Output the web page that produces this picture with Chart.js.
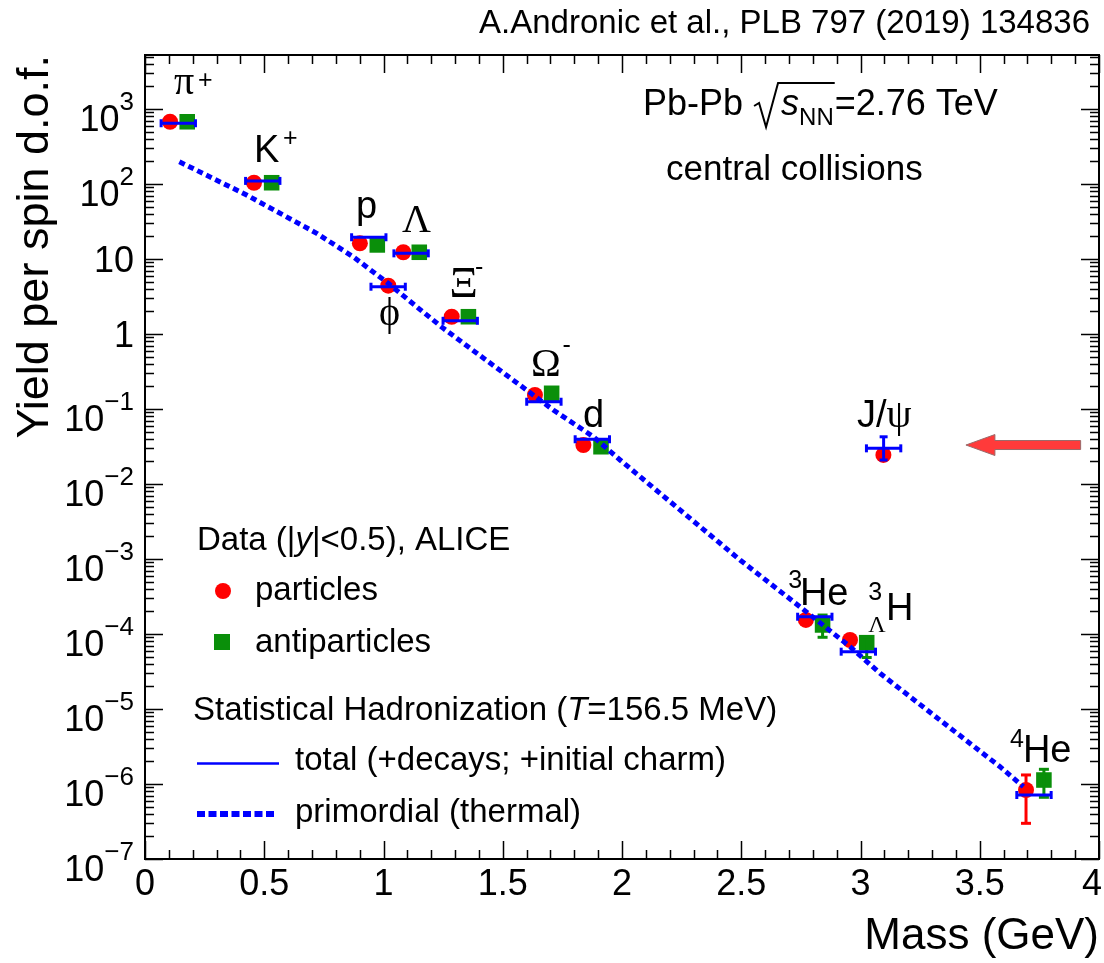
<!DOCTYPE html>
<html>
<head>
<meta charset="utf-8">
<script src="https://cdn.jsdelivr.net/npm/chart.js@4.4.1/dist/chart.umd.min.js"></script>
<style>
  html, body { margin: 0; padding: 0; background: #fff; }
  #wrap { width: 1104px; height: 963px; }
</style>
</head>
<body>
<div id="wrap"><canvas id="yieldChart" width="1104" height="963"></canvas></div>
<script>
// ---- data ----
// species in order of the model bars
const species = ['pi+', 'K+', 'p', 'phi', 'Lambda', 'Xi-', 'Omega-', 'd', '3He', '3LH', 'J/psi', '4He'];
const speciesMass = [0.1396, 0.4937, 0.9383, 1.0195, 1.1157, 1.3217, 1.6725, 1.8756, 2.8084, 2.991, 3.0969, 3.7274];
// Statistical Hadronization, total (+decays; +initial charm)
const modelTotal = [646, 110, 19.5, 4.27, 11.9, 1.50, 0.125, 0.0395, 1.70e-4, 5.81e-5, 0.0299, 7.13e-7];

// ALICE particles (red), plotted a bit left of the mass
const particleX = [0.105, 0.457, 0.901, 1.020, 1.083, 1.286, 1.635, 1.838, 2.771, 2.956, 3.096, 3.694];
const particleY = [676, 104, 16.2, 4.41, 12.3, 1.70, 0.154, 0.0331, 1.54e-4, 8.32e-5, 0.0244, 8.32e-7];
// ALICE antiparticles (green), plotted a bit right of the mass
const antiX = [0.177, 0.531, 0.974, 1.150, 1.356, 1.705, 1.912, 2.841, 3.026, 3.769];
const antiY = [676, 104, 15.4, 12.3, 1.70, 0.162, 0.0314, 1.32e-4, 7.66e-5, 1.13e-6];

// visible error bars
const particleErrX = [3.694];
const particleErrLo = [2.99e-7];
const particleErrHi = [1.32e-6];
const antiErrX = [2.841, 3.026, 3.769];
const antiErrLo = [9.04e-5, 4.86e-5, 6.65e-7];
const antiErrHi = [1.79e-4, 9.04e-5, 1.57e-6];
const modelErrX = [3.0969];
const modelErrLo = [0.0209];
const modelErrHi = [0.0426];

// primordial (thermal) curve
const thermalX = [0.144, 0.426, 0.720, 0.873, 1.020, 1.139, 1.251, 1.447, 1.600, 1.712, 1.880, 1.992, 2.495, 2.746, 2.956, 3.082, 3.333, 3.585, 3.683];
const thermalY = [198, 71.3, 22.0, 10.7, 4.74, 2.31, 1.19, 0.41, 0.179, 0.097, 0.0427, 0.0209, 9.7e-4, 2.31e-4, 6.78e-5, 2.99e-5, 7.13e-6, 1.70e-6, 9.2e-7];

// axes
const xTicks = [0, 0.5, 1, 1.5, 2, 2.5, 3, 3.5, 4];
const xTickLabels = ['0', '0.5', '1', '1.5', '2', '2.5', '3', '3.5', '4'];
const yDecades = [1e-7, 1e-6, 1e-5, 1e-4, 1e-3, 1e-2, 1e-1, 1, 10, 1e2, 1e3];
const yTickBase = ['10', '10', '10', '10', '10', '10', '10', '1', '10', '10', '10'];
const yTickExp = ['−7', '−6', '−5', '−4', '−3', '−2', '−1', '', '', '2', '3'];
const yMin = 1e-7, yMax = 5250;

// ---- styles ----
const RED = '#ff0000';
const GREEN = '#0a8f0a';
const BLUE = '#0000ff';
const SANS = '"Liberation Sans", Arial, sans-serif';
const SERIF = '"Liberation Serif", "Times New Roman", serif';
const F = {
  t: `38px ${SANS}`,
  s: `25px ${SANS}`,
  g: `40px ${SERIF}`,
  gL: `44px ${SERIF}`,
  gs: `24px ${SERIF}`,
  h: `36px ${SANS}`,
  hi: `italic 36px ${SANS}`,
  hs: `24px ${SANS}`,
  c: `35px ${SANS}`,
  leg: `33px ${SANS}`,
  legi: `italic 33px ${SANS}`,
  cite: `33px ${SANS}`,
  tick: `36px ${SANS}`,
  tickExp: `26px ${SANS}`
};
const barHalfWidth = 0.072;

// particle name labels, anchored in data coordinates (left edge, baseline)
const speciesLabels = [
  {x: 0.122, y: 1585, runs: [['π', 'g']]},
  {x: 0.222, y: 1905, runs: [['+', 's']]},
  {x: 0.457, y: 198, runs: [['K', 't']]},
  {x: 0.579, y: 324, runs: [['+', 's']]},
  {x: 0.885, y: 34.9, runs: [['p', 't']]},
  {x: 1.078, y: 23.1, runs: [['Λ', 'g']]},
  {x: 0.981, y: 1.32, runs: [['ϕ', 'g']]},
  {x: 1.277, y: 3.08, runs: [['Ξ', 'gL']]},
  {x: 1.384, y: 6.18, runs: [['-', 's']]},
  {x: 1.618, y: 0.275, runs: [['Ω', 'g']]},
  {x: 1.751, y: 0.558, runs: [['-', 's']]},
  {x: 1.836, y: 0.0581, runs: [['d', 't']]},
  {x: 2.985, y: 0.0575, runs: [['J/', 't'], ['ψ', 'g']]},
  {x: 2.697, y: 4.06e-4, runs: [['3', 's']]},
  {x: 2.746, y: 2.44e-4, runs: [['He', 't']]},
  {x: 3.033, y: 2.84e-4, runs: [['3', 's']]},
  {x: 3.033, y: 1.07e-4, runs: [['Λ', 'gs']]},
  {x: 3.107, y: 1.54e-4, runs: [['H', 't']]},
  {x: 3.627, y: 3.14e-6, runs: [['4', 's']]},
  {x: 3.681, y: 1.98e-6, runs: [['He', 't']]}
];
// arrow pointing at J/psi (data coords)
const arrowTip = {x: 3.442, y: 0.0331};
const arrowTailX = 3.923;

function pairs(xs, ys) {
  return xs.map((x, i) => ({x: x, y: ys[i]}));
}
function modelBars() {
  const pts = [];
  speciesMass.forEach((m, i) => {
    pts.push({x: m - barHalfWidth, y: modelTotal[i]});
    pts.push({x: m + barHalfWidth, y: modelTotal[i]});
    pts.push({x: m + barHalfWidth, y: null}); // break the line
  });
  return pts;
}
function errorBars(xs, lo, hi) {
  const pts = [];
  xs.forEach((x, i) => {
    pts.push({x: x, y: lo[i]}, {x: x, y: hi[i]}, {x: x, y: null});
  });
  return pts;
}

function drawRuns(ctx, runs, x, y) {
  runs.forEach(([t, f]) => {
    ctx.font = F[f];
    ctx.fillText(t, x, y);
    x += ctx.measureText(t).width;
  });
  return x;
}

// inward ticks on all four sides, frame, and tick labels (ROOT style)
const frameTicks = {
  id: 'frameTicks',
  afterDraw(chart) {
    const {ctx, chartArea: a, scales: {x, y}} = chart;
    ctx.save();
    ctx.strokeStyle = '#000';
    ctx.lineWidth = 1.5;
    ctx.beginPath();
    for (let i = 0; i <= 40; i++) {
      const px = Math.round(x.getPixelForValue(i / 10)) + 0.5;
      const len = i % 5 === 0 ? 18 : 9;
      ctx.moveTo(px, a.bottom); ctx.lineTo(px, a.bottom - len);
      ctx.moveTo(px, a.top); ctx.lineTo(px, a.top + len);
    }
    for (let e = -7; e <= 3; e++) {
      for (let m = 1; m <= 9; m++) {
        const v = m * Math.pow(10, e);
        if (v > yMax) break;
        const py = Math.round(y.getPixelForValue(v)) + 0.5;
        const len = m === 1 ? 18 : 9;
        ctx.moveTo(a.left, py); ctx.lineTo(a.left + len, py);
        ctx.moveTo(a.right, py); ctx.lineTo(a.right - len, py);
      }
    }
    ctx.stroke();
    ctx.lineWidth = 2;
    ctx.strokeRect(a.left, a.top, a.right - a.left, a.bottom - a.top);

    ctx.fillStyle = '#000';
    ctx.textBaseline = 'alphabetic';
    // x tick labels (the last one is kept inside the canvas)
    ctx.textAlign = 'center';
    ctx.font = F.tick;
    x.ticks.forEach((t, i) => {
      const w = ctx.measureText(xTickLabels[i]).width;
      const px = Math.min(x.getPixelForValue(t.value), chart.width - 2 - w / 2);
      ctx.fillText(xTickLabels[i], px, a.bottom + 36);
    });
    // y tick labels
    ctx.textAlign = 'right';
    const rightEdge = a.left - 11;
    y.ticks.forEach((t, i) => {
      const py = y.getPixelForValue(t.value);
      const exp = yTickExp[i];
      if (exp) {
        ctx.font = F.tickExp;
        ctx.fillText(exp, rightEdge, py + 1);
        const w = ctx.measureText(exp).width;
        ctx.font = F.tick;
        ctx.fillText(yTickBase[i], rightEdge - w, py + 22);
      } else {
        ctx.font = F.tick;
        ctx.fillText(yTickBase[i], rightEdge, py + 13);
      }
    });
    ctx.restore();
  }
};

// particle names and the J/psi arrow
const speciesText = {
  id: 'speciesText',
  afterDatasetsDraw(chart) {
    const {ctx, scales: {x, y}} = chart;
    ctx.save();
    ctx.fillStyle = '#000';
    ctx.textAlign = 'left';
    ctx.textBaseline = 'alphabetic';
    speciesLabels.forEach(item => {
      drawRuns(ctx, item.runs, x.getPixelForValue(item.x), y.getPixelForValue(item.y));
    });

    // arrow
    const tx = x.getPixelForValue(arrowTip.x);
    const ty = y.getPixelForValue(arrowTip.y);
    const ex = x.getPixelForValue(arrowTailX);
    const head = 29, hh = 10.5, sh = 4.5;
    ctx.beginPath();
    ctx.moveTo(tx, ty);
    ctx.lineTo(tx + head, ty - hh);
    ctx.lineTo(tx + head, ty - sh);
    ctx.lineTo(ex, ty - sh);
    ctx.lineTo(ex, ty + sh);
    ctx.lineTo(tx + head, ty + sh);
    ctx.lineTo(tx + head, ty + hh);
    ctx.closePath();
    ctx.fillStyle = '#ff3a3a';
    ctx.fill();
    ctx.strokeStyle = '#9a6a6a';
    ctx.lineWidth = 1;
    ctx.stroke();
    ctx.restore();
  }
};

// legend, header and citation (fixed page positions)
const pageText = {
  id: 'pageText',
  afterDraw(chart) {
    const ctx = chart.ctx;
    ctx.save();
    ctx.fillStyle = '#000';
    ctx.textAlign = 'left';
    ctx.textBaseline = 'alphabetic';

    // citation
    ctx.font = F.cite;
    ctx.textAlign = 'right';
    ctx.fillText('A.Andronic et al., PLB 797 (2019) 134836', 1090, 33);
    ctx.textAlign = 'left';

    // header: Pb-Pb sqrt(s_NN)=2.76 TeV
    let hx = drawRuns(ctx, [['Pb-Pb ', 'h']], 643, 115);
    const rx = hx + 1;
    const sx = rx + 27;
    let ex = drawRuns(ctx, [['s', 'hi']], sx, 115);
    ex = drawRuns(ctx, [['NN', 'hs']], ex, 125);
    ctx.strokeStyle = '#000';
    ctx.lineWidth = 2;
    ctx.beginPath();
    ctx.moveTo(rx, 106);
    ctx.lineTo(rx + 5, 103);
    ctx.lineTo(rx + 12, 127);
    ctx.lineTo(rx + 24, 83);
    ctx.lineTo(ex + 1, 83);
    ctx.stroke();
    drawRuns(ctx, [['=2.76 TeV', 'h']], ex + 1, 115);
    drawRuns(ctx, [['central collisions', 'c']], 666, 180);

    // legend
    drawRuns(ctx, [['Data (|', 'leg'], ['y', 'legi'], ['|<0.5), ALICE', 'leg']], 197, 550);
    ctx.fillStyle = RED;
    ctx.beginPath();
    ctx.arc(223, 591, 8, 0, Math.PI * 2);
    ctx.fill();
    ctx.fillStyle = GREEN;
    ctx.fillRect(214, 634, 16, 16);
    ctx.fillStyle = '#000';
    drawRuns(ctx, [['particles', 'leg']], 255, 600);
    drawRuns(ctx, [['antiparticles', 'leg']], 255, 652);
    drawRuns(ctx, [['Statistical Hadronization (', 'leg'], ['T', 'legi'], ['=156.5 MeV)', 'leg']], 193, 720);
    ctx.strokeStyle = BLUE;
    ctx.lineWidth = 2.5;
    ctx.beginPath();
    ctx.moveTo(197, 763.5); ctx.lineTo(279, 763.5);
    ctx.stroke();
    ctx.lineWidth = 6;
    ctx.setLineDash([8, 3.5]);
    ctx.beginPath();
    ctx.moveTo(197, 814); ctx.lineTo(277, 814);
    ctx.stroke();
    ctx.setLineDash([]);
    drawRuns(ctx, [['total (+decays; +initial charm)', 'leg']], 295, 770);
    drawRuns(ctx, [['primordial (thermal)', 'leg']], 295, 822);
    ctx.restore();
  }
};

const ctx = document.getElementById('yieldChart').getContext('2d');
const chart = new Chart(ctx, {
  type: 'scatter',
  data: {
    datasets: [
      {
        label: 'primordial (thermal)',
        data: pairs(thermalX, thermalY),
        showLine: true,
        borderColor: BLUE,
        borderWidth: 5,
        borderDash: [6, 4],
        borderCapStyle: 'butt',
        pointRadius: 0,
        order: 1
      },
      {
        label: 'total (+decays; +initial charm)',
        data: modelBars(),
        showLine: true,
        borderColor: BLUE,
        borderWidth: 3,
        pointStyle: 'line',
        pointRotation: 90,
        pointRadius: 4,
        pointBorderColor: BLUE,
        pointBorderWidth: 3,
        order: 2
      },
      {
        label: 'model uncertainty',
        data: errorBars(modelErrX, modelErrLo, modelErrHi),
        showLine: true,
        borderColor: BLUE,
        borderWidth: 3,
        pointStyle: 'line',
        pointRadius: 4,
        pointBorderColor: BLUE,
        pointBorderWidth: 3,
        order: 2
      },
      {
        label: 'particle errors',
        data: errorBars(particleErrX, particleErrLo, particleErrHi),
        showLine: true,
        borderColor: RED,
        borderWidth: 3,
        pointStyle: 'line',
        pointRadius: 5,
        pointBorderColor: RED,
        pointBorderWidth: 3,
        order: 3
      },
      {
        label: 'antiparticle errors',
        data: errorBars(antiErrX, antiErrLo, antiErrHi),
        showLine: true,
        borderColor: GREEN,
        borderWidth: 3,
        pointStyle: 'line',
        pointRadius: 5,
        pointBorderColor: GREEN,
        pointBorderWidth: 3,
        order: 3
      },
      {
        label: 'antiparticles',
        data: pairs(antiX, antiY),
        pointStyle: 'rect',
        pointRadius: 11,
        pointBackgroundColor: GREEN,
        pointBorderWidth: 0,
        order: 4
      },
      {
        label: 'particles',
        data: pairs(particleX, particleY),
        pointStyle: 'circle',
        pointRadius: 8,
        pointBackgroundColor: RED,
        pointBorderWidth: 0,
        order: 5
      }
    ]
  },
  options: {
    responsive: false,
    animation: false,
    events: [],
    layout: {autoPadding: false, padding: {top: 55, right: 5, left: 0, bottom: 0}},
    plugins: {
      legend: {display: false},
      tooltip: {enabled: false}
    },
    scales: {
      x: {
        type: 'linear',
        min: 0,
        max: 4,
        afterFit: s => { s.height = 104; },
        afterBuildTicks: s => { s.ticks = xTicks.map(v => ({value: v})); },
        grid: {display: false, drawTicks: false},
        border: {display: false},
        ticks: {display: false},
        title: {
          display: true,
          text: 'Mass (GeV)',
          align: 'end',
          color: '#000',
          font: {family: SANS, size: 44},
          padding: {top: 0, bottom: 0}
        }
      },
      y: {
        type: 'logarithmic',
        min: yMin,
        max: yMax,
        afterFit: s => { s.width = 145; },
        afterBuildTicks: s => { s.ticks = yDecades.map(v => ({value: v, major: true})); },
        grid: {display: false, drawTicks: false},
        border: {display: false},
        ticks: {display: false},
        title: {
          display: true,
          text: 'Yield per spin d.o.f.',
          align: 'end',
          color: '#000',
          font: {family: SANS, size: 45},
          padding: {top: 9, bottom: 0}
        }
      }
    }
  },
  plugins: [frameTicks, speciesText, pageText]
});
</script>
</body>
</html>
